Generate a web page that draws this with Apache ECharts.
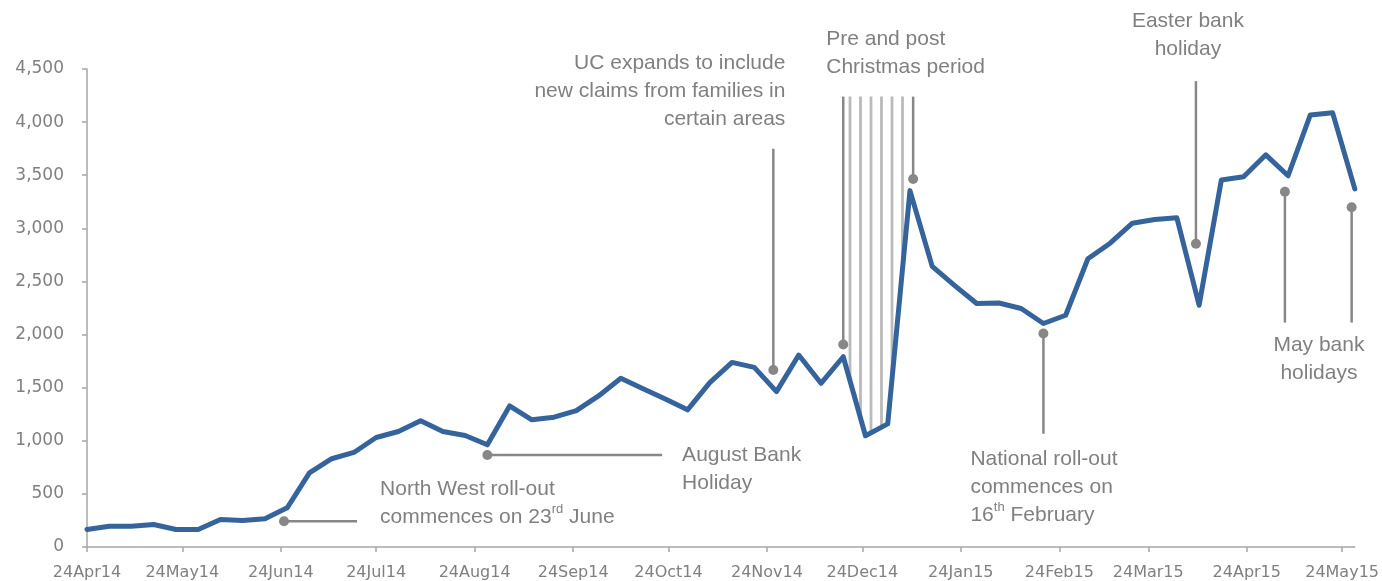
<!DOCTYPE html>
<html>
<head>
<meta charset="utf-8">
<script src="https://cdn.jsdelivr.net/npm/echarts@6/dist/echarts.min.js"></script>
<style>
  html, body { margin: 0; padding: 0; background: #ffffff; }
  #chart { width: 1382px; height: 581px; }
</style>
</head>
<body>
<div id="chart"></div>
<script>
// Weekly Universal Credit claims, week ending dates
const weeks = [
  '2014-04-24', '2014-05-01', '2014-05-08', '2014-05-15', '2014-05-22', '2014-05-29',
  '2014-06-05', '2014-06-12', '2014-06-19', '2014-06-26',
  '2014-07-03', '2014-07-10', '2014-07-17', '2014-07-24', '2014-07-31',
  '2014-08-07', '2014-08-14', '2014-08-21', '2014-08-28',
  '2014-09-04', '2014-09-11', '2014-09-18', '2014-09-25',
  '2014-10-02', '2014-10-09', '2014-10-16', '2014-10-23', '2014-10-30',
  '2014-11-06', '2014-11-13', '2014-11-20', '2014-11-27',
  '2014-12-04', '2014-12-11', '2014-12-18', '2014-12-25',
  '2015-01-01', '2015-01-08', '2015-01-15', '2015-01-22', '2015-01-29',
  '2015-02-05', '2015-02-12', '2015-02-19', '2015-02-26',
  '2015-03-05', '2015-03-12', '2015-03-19', '2015-03-26',
  '2015-04-02', '2015-04-09', '2015-04-16', '2015-04-23', '2015-04-30',
  '2015-05-07', '2015-05-14', '2015-05-21', '2015-05-28'
];

const claims = [
  165, 196, 196, 212, 165, 165, 259, 250, 265, 369,
  697, 831, 890, 1031, 1087, 1188, 1087, 1050, 962, 1328,
  1197, 1222, 1284, 1422, 1588, 1489, 1394, 1291, 1547, 1738,
  1691, 1463, 1807, 1541, 1791, 1047, 1159, 3355, 2642, 2463,
  2292, 2297, 2245, 2104, 2182, 2714, 2860, 3048, 3083, 3099,
  2276, 3455, 3486, 3692, 3495, 4068, 4089, 3371
];

const tickDates = [
  '2014-04-24', '2014-05-24', '2014-06-24', '2014-07-24', '2014-08-24',
  '2014-09-24', '2014-10-24', '2014-11-24', '2014-12-24', '2015-01-24',
  '2015-02-24', '2015-03-24', '2015-04-24', '2015-05-24'
];
const tickLabels = [
  '24Apr14', '24May14', '24Jun14', '24Jul14', '24Aug14', '24Sep14', '24Oct14',
  '24Nov14', '24Dec14', '24Jan15', '24Feb15', '24Mar15', '24Apr15', '24May15'
];

// Christmas period: weeks shaded between the line and the period marker top
const christmasFirst = 34;
const christmasLast = 37;
const christmasTop = 4240;

// Leader lines: [dot date, dot value, end date, end value]
const leaders = [
  ['2014-06-25', 243, '2014-07-18', 243],
  ['2014-08-28', 866, '2014-10-22', 866],
  ['2014-11-26', 1666, '2014-11-26', 3749],
  ['2014-12-18', 1907, '2014-12-18', christmasTop],
  ['2015-01-09', 3464, '2015-01-09', christmasTop],
  ['2015-02-19', 2010, '2015-02-19', 1066],
  ['2015-04-08', 2855, '2015-04-08', 4386],
  ['2015-05-06', 3345, '2015-05-06', 2113],
  ['2015-05-27', 3198, '2015-05-27', 2113]
];

// Note texts, each attached to the end of one leader line
const notes = [
  { leader: 0, lines: ['North West roll-out', 'commences on 23{sup|rd} June'] },
  { leader: 1, lines: ['August Bank', 'Holiday'] },
  { leader: 2, lines: ['UC expands to include', 'new claims from families in', 'certain areas'] },
  { leader: 3, lines: ['Pre and post', 'Christmas period'] },
  { leader: 5, lines: ['National roll-out', 'commences on', '16{sup|th} February'] },
  { leader: 6, lines: ['Easter bank', 'holiday'] },
  { leader: 7, lines: ['May bank', 'holidays'] }
];

// Placement of each note relative to its leader end (pixels)
const noteLayout = [
  { align: 'left', dx: 23, dy: -32 },
  { align: 'left', dx: 20, dy: 0 },
  { align: 'right', dx: 12, dy: -86 },
  { align: 'left', dx: -17, dy: -57 },
  { align: 'left', dx: -73, dy: 25 },
  { align: 'center', dx: -8, dy: -60 },
  { align: 'center', dx: 34, dy: 23 }
];

const ts = s => {
  const [y, m, d] = s.split('-').map(Number);
  return Date.UTC(y, m - 1, d);
};

const lineBlue = '#35639b';
const noteGrey = '#808080';
const leaderGrey = '#878787';
const axisGrey = '#a6a6a6';
const lineHeight = 28;
const noteFont = 'Liberation Sans, Arial, sans-serif';

const seriesData = weeks.map((d, i) => [ts(d), claims[i]]);
const christmasData = seriesData.slice(christmasFirst, christmasLast + 1);
const tickValues = tickDates.map(ts);

// Vertical stripe fill for the Christmas period
function stripePattern() {
  const c = document.createElement('canvas');
  c.width = 21;
  c.height = 8;
  const g = c.getContext('2d');
  g.strokeStyle = '#bababa';
  g.lineWidth = 2.8;
  [-0.5, 10, 20.5].forEach(x => {
    g.beginPath();
    g.moveTo(x, 0);
    g.lineTo(x, 8);
    g.stroke();
  });
  return { image: c, repeat: 'repeat' };
}

const chart = echarts.init(document.getElementById('chart'), null, { renderer: 'canvas' });

chart.setOption({
  animation: false,
  backgroundColor: '#ffffff',
  grid: { left: 87, right: 26, top: 69, bottom: 33, containLabel: false },
  xAxis: {
    type: 'value',
    min: ts(weeks[0]),
    max: ts(weeks[weeks.length - 1]),
    splitLine: { show: false },
    axisLine: { show: true, lineStyle: { color: axisGrey, width: 1.5 } },
    axisTick: {
      show: true, length: 5, customValues: tickValues,
      lineStyle: { color: axisGrey, width: 1.5 }
    },
    axisLabel: {
      customValues: tickValues,
      formatter: v => {
        const i = tickValues.indexOf(v);
        return i >= 0 ? tickLabels[i] : '';
      },
      color: noteGrey,
      fontFamily: 'DejaVu Sans',
      fontSize: 16,
      margin: 18,
      hideOverlap: false
    }
  },
  yAxis: {
    type: 'value',
    min: 0,
    max: 4500,
    interval: 500,
    splitLine: { show: false },
    axisLine: { show: true, lineStyle: { color: axisGrey, width: 1.5 } },
    axisTick: { show: true, length: 5, lineStyle: { color: axisGrey, width: 1.5 } },
    axisLabel: {
      color: noteGrey,
      fontFamily: 'DejaVu Sans',
      fontSize: 17,
      margin: 23
    }
  },
  series: [
    {
      name: 'Christmas period',
      type: 'line',
      data: christmasData,
      symbol: 'none',
      lineStyle: { width: 0, opacity: 0 },
      areaStyle: { origin: christmasTop, color: stripePattern(), opacity: 1 },
      z: 1,
      silent: true
    },
    {
      name: 'Leaders',
      type: 'custom',
      clip: false,
      z: 2,
      silent: true,
      data: leaders.map(l => [ts(l[0]), l[1]]),
      renderItem: (params, api) => {
        const l = leaders[params.dataIndex];
        const p0 = api.coord([ts(l[0]), l[1]]);
        const p1 = api.coord([ts(l[2]), l[3]]);
        return {
          type: 'group',
          children: [
            {
              type: 'line',
              shape: { x1: p0[0], y1: p0[1], x2: p1[0], y2: p1[1] },
              style: { stroke: leaderGrey, lineWidth: 2.5 }
            },
            {
              type: 'circle',
              shape: { cx: p0[0], cy: p0[1], r: 5 },
              style: { fill: leaderGrey }
            }
          ]
        };
      }
    },
    {
      name: 'Notes',
      type: 'custom',
      clip: false,
      z: 3,
      silent: true,
      data: notes.map(n => {
        const l = leaders[n.leader];
        return [ts(l[2]), l[3]];
      }),
      renderItem: (params, api) => {
        const n = notes[params.dataIndex];
        const lay = noteLayout[params.dataIndex];
        const l = leaders[n.leader];
        const p = api.coord([ts(l[2]), l[3]]);
        return {
          type: 'text',
          x: p[0] + lay.dx,
          y: p[1] + lay.dy - lineHeight / 2,
          style: {
            text: n.lines.join('\n'),
            fill: noteGrey,
            fontFamily: noteFont,
            fontSize: 21,
            lineHeight: lineHeight,
            align: lay.align,
            verticalAlign: 'top',
            rich: {
              sup: {
                fontFamily: noteFont,
                fontSize: 13,
                lineHeight: 14,
                fill: noteGrey,
                verticalAlign: 'top'
              }
            }
          }
        };
      }
    },
    {
      name: 'Claims',
      type: 'line',
      data: seriesData,
      symbol: 'none',
      lineStyle: { color: lineBlue, width: 5, join: 'round', cap: 'round' },
      z: 5
    }
  ]
});
</script>
</body>
</html>
